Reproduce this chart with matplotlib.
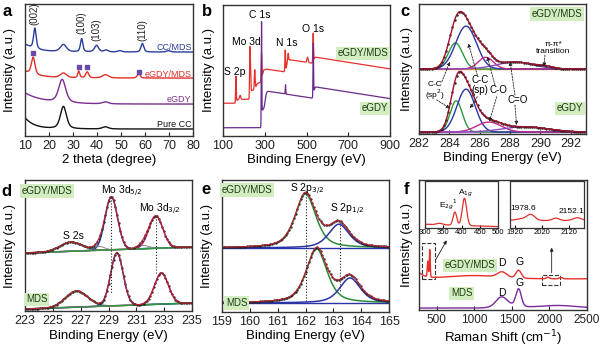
import numpy as np
import matplotlib
matplotlib.use('Agg')
import matplotlib.pyplot as plt
from matplotlib.patches import Rectangle

plt.rcParams['font.family'] = ['Liberation Sans', 'DejaVu Sans']

# ---------------- data ----------------
# a: XRD, peaks as (center, height, fwhm), offsets in a.u.
xrd_names = ['Pure CC', 'eGDY', 'eGDY/MDS', 'CC/MDS']
xrd_base = [5.3, 24.2, 43.9, 63.6]
xrd_decay = [8.5, 8.4, 5.0, 6.0]
xrd_tau = [4.0, 8.0, 6.0, 5.0]
xrd_peaks = [
    [(26.0, 17.0, 3.0), (43.5, 1.6, 3.0)],
    [(25.5, 17.5, 3.5), (43.5, 1.5, 3.0)],
    [(13.4, 13.0, 1.8), (26.0, 3.5, 3.0), (32.4, 5.0, 1.0), (35.9, 4.5, 1.5),
     (43.5, 2.5, 3.0), (57.4, 3.5, 1.4)],
    [(14.1, 15.5, 1.3), (26.0, 5.5, 3.0), (33.6, 10.0, 1.2), (39.8, 5.0, 2.0),
     (43.8, 1.5, 2.0), (49.5, 1.0, 2.0), (58.9, 6.5, 1.4), (69.8, 1.0, 2.0)],
]
xrd_hkl = ['(002)', '(100)', '(103)', '(110)']
xrd_hkl_x = [14.1, 33.6, 39.8, 58.9]
xrd_hkl_y = [84, 77, 72, 72]
mds_mark_x = [13.3, 32.4, 35.9, 57.4]
mds_mark_y = [62.9, 52.3, 52.3, 48.5]
xrd_label_y = [8.8, 27.8, 46.5, 67.3]

# b: XPS survey, steps (center, height, width), peaks (center, height, sigma)
b_red_base = 25.0
b_red_steps = [(165, 3, 2), (232, 7, 2), (258, 5.5, 3), (288, 10.5, 3), (405, 10, 3), (535, 5, 2)]
b_red_peaks = [(162, 20, 1.5), (182, 3, 3), (229, 38, 1.6), (232.5, 14, 1.5), (252, 15, 2.0),
               (284.5, 20, 1.5), (398, 16, 1.5), (412, 5.5, 1.8), (505, 4, 3), (532, 22, 1.5)]
b_pur_base = 6.3
b_pur_steps = [(285, 13.5, 1), (302, 14.5, 3), (535, 9, 2)]
b_pur_peaks = [(284.5, 76, 1.2), (399.5, 7, 1.2), (532.5, 40, 1.3)]
b_tilt = 0.025
b_lines = ['S 2p', 'Mo 3d', 'C 1s', 'N 1s', 'O 1s']
b_lines_x = [157, 213, 277, 405, 532]
b_lines_y = [49, 72, 92, 70.7, 81.4]

# c: C 1s, components (center, height, sigma)
c_up_base = 50.0
c_up_pos = [284.4, 285.1, 286.4, 288.3, 290.3]
c_up_h = [20, 33, 9, 5.4, 1.5]
c_up_s = [0.47, 0.68, 0.5, 1.2, 0.5]
c_lo_base = 1.5
c_lo_pos = [284.45, 285.1, 286.6, 289.0]
c_lo_h = [24, 33, 7.7, 4]
c_lo_s = [0.4, 0.6, 0.8, 1.5]

# d: Mo 3d, components S 2s, Mo 3d5/2, Mo 3d3/2, two shoulders
d_up_base = (44.3, 48.9)
d_up_pos = [226.3, 229.2, 232.4, 228.3, 231.5]
d_up_h = [7.1, 40.3, 24.6, 3.0, 2.5]
d_up_s = [0.8, 0.45, 0.5, 0.4, 0.4]
d_lo_base = (1.5, 6.1)
d_lo_pos = [226.7, 229.6, 232.8]
d_lo_h = [12.4, 40.3, 23.7]
d_lo_s = [0.8, 0.45, 0.5]

# e: S 2p, (center, height, fwhm)
e_up_base = 48.5
e_up_pos = [162.0, 163.2]
e_up_h = [41, 18]
e_lo_base = 6.8
e_lo_pos = [162.4, 163.6]
e_lo_h = [41, 19]
e_fwhm = 0.88

# f: Raman
f_red_base = 24.0
f_red_peaks = [(382, 12, 7), (408, 21, 6), (1000, 2.5, 350), (1370, 4, 60), (1590, 6, 35),
               (1978, 1.2, 20), (2152, 1.0, 20)]
f_pur_base = 1.5
f_pur_peaks = [(1360, 6.5, 70), (1590, 13, 35), (1450, 2.5, 150), (2100, 2, 250)]
f_in1_peaks = [(340, 3, 8), (382, 28, 5), (408, 58, 6)]
f_in2_peaks = [(1950, 4, 25), (1978, 11, 14), (2070, 5, 12), (2150, 6, 15)]

# ---------------- helpers ----------------
def gauss(x, c, h, s):
    return h * np.exp(-0.5 * ((x - c) / s) ** 2)

def pv(x, c, h, w, eta=0.5):
    g = np.exp(-4 * np.log(2) * ((x - c) / w) ** 2)
    l = 1 / (1 + 4 * ((x - c) / w) ** 2)
    return h * (eta * l + (1 - eta) * g)

def sig(x, c, h, w):
    return h / (1 + np.exp(-(x - c) / w))

fig = plt.figure(figsize=(6, 3.52), dpi=100)

def add_ax(l, t, r, b):
    return fig.add_axes([l / 600, 1 - b / 352, (r - l) / 600, (b - t) / 352])

def style(ax, xlim, xticks, xlabel, ylx, xly):
    ax.set_xlim(xlim)
    ax.set_ylim(0, 100)
    ax.set_xticks(xticks)
    ax.set_yticks([])
    ax.tick_params(direction='in', length=3, labelsize=9, pad=3, colors='#222222')
    for s in ax.spines.values():
        s.set_linewidth(1.0)
        s.set_color('#333333')
    ax.set_xlabel(xlabel, fontsize=9.5)
    ax.set_ylabel('Intensity (a.u.)', fontsize=9.5)
    ax.yaxis.set_label_coords(ylx, 0.5)
    ax.xaxis.set_label_coords(0.5, xly)

def tag(ax, x, y, s, fs=7):
    ax.text(x, y, s, ha='center', va='center', fontsize=fs, color='#1f3a12',
            bbox=dict(boxstyle='square,pad=0.18', fc='#d2eec0', ec='none'))

GREEN, BLUE, MAG, PURP = '#2e9a3e', '#2a34a8', '#c4288c', '#8a4ac0'
ENV = '#c0202e'

# ---------------- a ----------------
ax = add_ax(25, 4, 193, 136)
x = np.linspace(10, 80, 1400)
xrd_cols = ['#111111', '#7b2d8e', '#e0302a', '#2b3d9c']
for i in range(4):
    y = xrd_base[i] + xrd_decay[i] * np.exp(-(x - 10) / xrd_tau[i])
    for c, h, w in xrd_peaks[i]:
        y = y + pv(x, c, h, w)
    ax.plot(x, y, color=xrd_cols[i], lw=1.0)
    ax.text(79.4, xrd_label_y[i], xrd_names[i], ha='right', va='center', fontsize=6.5,
            color=xrd_cols[i])
ax.plot(mds_mark_x, mds_mark_y, 's', color='#6a4aa8', ms=3)
for s, xx, yy in zip(xrd_hkl, xrd_hkl_x, xrd_hkl_y):
    ax.text(xx, yy, s, rotation=90, ha='center', va='bottom', fontsize=7, color='#222222')
style(ax, (10, 80), range(10, 81, 10), '2 theta (degree)', -0.054, -0.137)

# ---------------- b ----------------
ax = add_ax(223, 5, 390, 136)
x = np.linspace(100, 900, 4000)
yr = b_red_base + sum(sig(x, c, h, w) for c, h, w in b_red_steps)
yr = yr + sum(gauss(x, c, h, s) for c, h, s in b_red_peaks) - b_tilt * np.clip(x - 310, 0, None)
yp = b_pur_base + sum(sig(x, c, h, w) for c, h, w in b_pur_steps)
yp = yp + sum(gauss(x, c, h, s) for c, h, s in b_pur_peaks) - b_tilt * np.clip(x - 310, 0, None)
ax.plot(x, yr, color='#e8302a', lw=0.9)
ax.plot(x, yp, color='#6a2a8a', lw=0.9)
for s, xx, yy in zip(b_lines, b_lines_x, b_lines_y):
    ax.text(xx, yy, s, ha='center', va='center', fontsize=7.5)
tag(ax, 771, 63, 'eGDY/MDS')
tag(ax, 828, 21, 'eGDY')
style(ax, (100, 900), range(100, 901, 200), 'Binding Energy (eV)', -0.048, -0.137)

# ---------------- c ----------------
ax = add_ax(419, 4, 586, 134)
x = np.linspace(282, 293, 800)
ccols = [GREEN, BLUE, MAG, PURP]
env = c_up_base + sum(gauss(x, c, h, s) for c, h, s in zip(c_up_pos, c_up_h, c_up_s))
ax.plot(x, np.full_like(x, c_up_base), color='#e89a20', lw=1.0)
for i in range(4):
    ax.plot(x, c_up_base + gauss(x, c_up_pos[i], c_up_h[i], c_up_s[i]), color=ccols[i], lw=1.0)
ax.plot(x[::10], env[::10], '.', color='#222222', ms=1.5)
ax.plot(x, env, color='#a0102a', lw=1.0)
env = c_lo_base + sum(gauss(x, c, h, s) for c, h, s in zip(c_lo_pos, c_lo_h, c_lo_s))
ax.plot(x, np.full_like(x, c_lo_base), color='#b27ad8', lw=1.0)
for i in range(4):
    ax.plot(x, c_lo_base + gauss(x, c_lo_pos[i], c_lo_h[i], c_lo_s[i]), color=ccols[i], lw=1.0)
ax.plot(x[::10], env[::10], '.', color='#222222', ms=1.5)
ax.plot(x, env, color='#a0102a', lw=1.0)
c_txt = ['C-C\n(sp$^2$)', 'C-C\n(sp)', 'C-O', 'C=O', 'π-π*\ntransition']
c_txt_xy = [(283.05, 32.5), (286.0, 37.7), (287.2, 33.8), (288.5, 26), (290.85, 66)]
for s, (xx, yy) in zip(c_txt, c_txt_xy):
    ax.text(xx, yy, s, ha='center', va='center', fontsize=7 if len(s) < 12 else 6,
            linespacing=1.0)
c_arrows = [((283.5, 40.2), (284.04, 55.6)), ((283.17, 26.2), (284.04, 19.7)),
            ((285.84, 45.4), (285.25, 69.7)), ((285.84, 28.7), (285.36, 19.7)),
            ((287.0, 37.7), (286.5, 59.5)), ((287.12, 28.7), (286.63, 9.5)),
            ((288.32, 30), (288.0, 55.6)), ((288.32, 22.3), (288.43, 6.9)),
            ((290.3, 60.8), (290.23, 51.8))]
for st, en in c_arrows:
    ax.annotate('', xy=en, xytext=st,
                arrowprops=dict(arrowstyle='-|>', ls=(0, (2, 1.5)), lw=0.6, color='#222222',
                                mutation_scale=5, shrinkA=0, shrinkB=0))
tag(ax, 291.07, 92.3, 'eGDY/MDS')
tag(ax, 291.95, 19.7, 'eGDY')
style(ax, (282, 293), range(282, 293, 2), 'Binding Energy (eV)', -0.036, -0.14)

# ---------------- d ----------------
ax = add_ax(25, 180, 192, 311)
x = np.linspace(223, 235, 800)
dcols = [GREEN, BLUE, MAG, '#888888', '#888888']
for base, pos, hh, ss in [(d_up_base, d_up_pos, d_up_h, d_up_s), (d_lo_base, d_lo_pos, d_lo_h, d_lo_s)]:
    bl = base[0] + (base[1] - base[0]) * (x - 223) / 12
    env = bl + sum(gauss(x, c, h, s) for c, h, s in zip(pos, hh, ss))
    for i in range(len(pos)):
        ax.plot(x, bl + gauss(x, pos[i], hh[i], ss[i]), color=dcols[i], lw=1.1 if i < 3 else 0.7)
    ax.plot(x, bl, color=GREEN, lw=1.0)
    ax.plot(x[::8], env[::8], '.', color='#222222', ms=1.3)
    ax.plot(x, env, color=ENV, lw=0.8)
ax.plot([d_up_pos[1]] * 2, [87, 14], ':', color='#222222', lw=0.8)
ax.plot([d_up_pos[2]] * 2, [72.5, 29], ':', color='#222222', lw=0.8)
ax.text(229.95, 91.6, 'Mo 3d$_{5/2}$', ha='center', va='center', fontsize=7.5)
ax.text(232.7, 77.6, 'Mo 3d$_{3/2}$', ha='center', va='center', fontsize=7.5)
ax.text(226.5, 57.3, 'S 2s', ha='center', va='center', fontsize=7.5)
tag(ax, 224.56, 91.6, 'eGDY/MDS')
tag(ax, 223.84, 8.9, 'MDS')
style(ax, (223, 235), range(223, 236, 2), 'Binding Energy (eV)', -0.054, -0.145)

# ---------------- e ----------------
ax = add_ax(222, 180, 389, 312)
x = np.linspace(159, 165, 800)
for base, pos, hh in [(e_up_base, e_up_pos, e_up_h), (e_lo_base, e_lo_pos, e_lo_h)]:
    p1 = pv(x, pos[0], hh[0], e_fwhm, 0.55)
    p2 = pv(x, pos[1], hh[1], e_fwhm, 0.55)
    ax.plot(x, np.full_like(x, base), color=BLUE, lw=1.0)
    ax.plot(x, base + p1, color='#2a8a3a', lw=1.1)
    ax.plot(x, base + p2, color=BLUE, lw=1.1)
    ax.plot(x[::8], (base + p1 + p2)[::8], '.', color='#222222', ms=1.3)
    ax.plot(x, base + p1 + p2, color=ENV, lw=0.8)
ax.plot([e_up_pos[0]] * 2, [89.4, 8.3], ':', color='#222222', lw=0.8)
ax.plot([e_up_pos[1] + 0.05] * 2, [68, 16], ':', color='#222222', lw=0.8)
ax.text(162.04, 93, 'S 2p$_{3/2}$', ha='center', va='center', fontsize=7.5)
ax.text(163.48, 77.8, 'S 2p$_{1/2}$', ha='center', va='center', fontsize=7.5)
tag(ax, 159.89, 92.4, 'eGDY/MDS')
tag(ax, 159.53, 7, 'MDS')
style(ax, (159, 165), range(159, 166), 'Binding Energy (eV)', -0.056, -0.14)

# ---------------- f ----------------
ax = add_ax(419, 180, 587, 310)
x = np.linspace(265, 2500, 3000)
yr = f_red_base + 4.7 * np.exp(-(x - 265) / 80) + sum(gauss(x, c, h, s) for c, h, s in f_red_peaks)
yp = f_pur_base + sum(gauss(x, c, h, s) for c, h, s in f_pur_peaks)
ax.plot(x, yr, color='#e8302a', lw=1.0)
ax.plot(x, yp, color='#7a2a9a', lw=1.0)
ax.add_patch(Rectangle((309, 23.6), 169, 28.2, fill=False, ls='--', lw=0.8, ec='#333333'))
ax.add_patch(Rectangle((1897, 19.2), 243, 7.8, fill=False, ls='--', lw=0.8, ec='#333333'))
ax.annotate('', xy=(633, 53.6), xytext=(491, 39),
            arrowprops=dict(arrowstyle='-|>', lw=0.6, color='#222222', mutation_scale=5,
                            shrinkA=0, shrinkB=0))
ax.annotate('', xy=(2030, 48), xytext=(2030, 28.7),
            arrowprops=dict(arrowstyle='-|>', lw=0.6, color='#222222', mutation_scale=5,
                            shrinkA=0, shrinkB=0))
tag(ax, 943, 34.4, 'eGDY/MDS')
tag(ax, 833, 12.8, 'MDS')
for xx, yy, s in [(1373, 35.9, 'D'), (1600, 37, 'G'), (1373, 13.3, 'D'), (1600, 20.5, 'G')]:
    ax.text(xx, yy, s, ha='center', va='center', fontsize=7.5)
style(ax, (265, 2500), range(500, 2501, 500), 'Raman Shift (cm$^{-1}$)', -0.036, -0.14)
ax.tick_params(labelsize=8.5)

def inset(l, r, xlim, xticks, xx, yy):
    a = add_ax(l, 181, r, 228)
    a.plot(xx, yy, color='#e0302a', lw=0.9)
    a.set_xlim(xlim)
    a.set_ylim(0, 100)
    a.set_xticks(xticks)
    a.set_yticks([])
    a.tick_params(direction='in', length=2, labelsize=5.5, pad=1)
    for s in a.spines.values():
        s.set_linewidth(0.9)
        s.set_color('#333333')
    return a

xi = np.linspace(300, 500, 400)
yi = 8 - 5 * (xi - 300) / 200 + sum(gauss(xi, c, h, s) for c, h, s in f_in1_peaks)
a1 = inset(425, 498, (300, 500), range(300, 501, 50), xi, yi)
a1.text(363, 49, 'E$_{2g}$$^{1}$', ha='center', va='center', fontsize=6)
a1.text(411, 74, 'A$_{1g}$', ha='center', va='center', fontsize=6)
xi = np.linspace(1900, 2175, 400)
yi = 16 + sum(gauss(xi, c, h, s) for c, h, s in f_in2_peaks)
a2 = inset(510, 584, (1900, 2175), [1920, 2020, 2120], xi, yi)
a2.text(1949, 41.4, '1978.6', ha='center', va='center', fontsize=6)
a2.text(2129, 34.7, '2152.1', ha='center', va='center', fontsize=6)

# panel letters
for s, px, py in [('a', 7, 12), ('b', 207, 11), ('c', 405, 11), ('d', 6, 191), ('e', 206, 189), ('f', 406, 190)]:
    fig.text(px / 600, 1 - py / 352, s, fontsize=12, fontweight='bold', ha='center', va='center')

fig.savefig('out.png', dpi=100)
